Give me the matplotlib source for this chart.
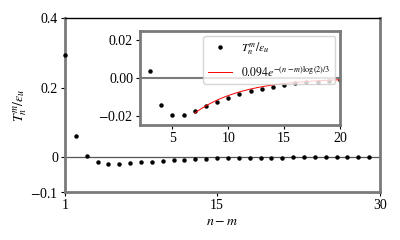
import numpy as np
from matplotlib import pyplot as plt

plt.rcParams['font.family'] = 'serif'
plt.rcParams['font.serif'] = ['Liberation Serif', 'DejaVu Serif']
plt.rcParams['mathtext.fontset'] = 'stix'
plt.rcParams['font.size'] = 10

# n - m and T_n^m / eps_u
nm = list(range(1, 30))
ratio = [0.294, 0.061, 0.0036, -0.0146, -0.0194, -0.0194, -0.0173, -0.0151,
         -0.0128, -0.0105, -0.0087, -0.0069, -0.0057, -0.0046, -0.0037, -0.0028,
         -0.0023, -0.0019, -0.0014, -0.0011, -0.0009, -0.0007, -0.0006, -0.0005,
         -0.0004, -0.0003, -0.0003, -0.0002, -0.0002]

# fitted decay, plotted from n-m = 7 to 20
amp = 0.094
fit_x = np.linspace(7, 20, 100)
fit_y = -amp * np.exp(-fit_x * np.log(2) / 3)

gris = '#7a7a7a'

fig = plt.figure(figsize=(4, 2.4), dpi=100)
ax = fig.add_axes([0.1625, 0.2, 0.7875, 0.725])
ax.plot(nm, ratio, 'o', color='k', markersize=2.2, clip_on=False, zorder=3)
ax.axhline(0, color='#555555', lw=0.9, zorder=1)
ax.set_xlim(1, 30)
ax.set_ylim(-0.1, 0.4)
ax.set_xticks([1, 15, 30])
ax.set_yticks([-0.1, 0, 0.2, 0.4])
ax.set_yticklabels(['$-$0.1', '0', '0.2', '0.4'])
ax.set_xlabel('$n-m$', labelpad=2)
ax.set_ylabel('$T_n^m/\\epsilon_u$', labelpad=1)
for lado in ['left', 'bottom', 'right']:
    ax.spines[lado].set_color(gris)
    ax.spines[lado].set_linewidth(2)
ax.spines['top'].set_linewidth(1)
ax.tick_params(length=3, width=0.8, pad=2)

ins = fig.add_axes([0.35, 0.479, 0.5, 0.392])
ins.plot(nm, ratio, 'o', color='k', markersize=2.2, label='$T_n^m/\\epsilon_u$')
ins.plot(fit_x, fit_y, color='red', lw=0.7,
         label='$0.094e^{-(n-m)\\log(2)/3}$')
ins.axhline(0, color=gris, lw=1.5, zorder=1)
ins.set_xlim(2.1, 20)
ins.set_ylim(-0.025, 0.025)
ins.set_xticks([5, 10, 15, 20])
ins.set_yticks([-0.02, 0, 0.02])
ins.set_yticklabels(['$-$0.02', '0.00', '0.02'])
for lado in ['left', 'bottom', 'right', 'top']:
    ins.spines[lado].set_color(gris)
    ins.spines[lado].set_linewidth(2)
ins.tick_params(length=3, width=0.8, pad=2)
ins.legend(loc='upper right', fontsize=8.5, handlelength=2.0,
           labelspacing=0.75, borderaxespad=0.4)

fig.savefig('out.png', dpi=100)
